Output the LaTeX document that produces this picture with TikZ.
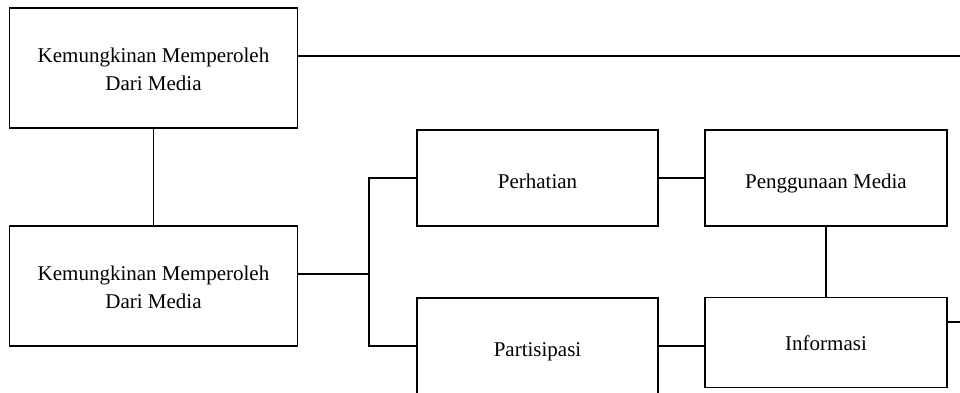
\documentclass[tikz,border=0pt]{standalone}
\usepackage{fontspec}
\setmainfont{Liberation Serif}
\begin{document}
\begin{tikzpicture}[x=1pt,y=-1pt,
  boxnode/.style={draw, line width=1.8pt, inner sep=0pt, align=center, font=\fontsize{21}{28.4}\selectfont},
  oneline/.style={boxnode, text height=20pt, text depth=0pt},
  twoline/.style={boxnode, text height=45.4pt, text depth=0pt},
  conn/.style={line width=1.8pt}]
\useasboundingbox (0,0) rectangle (960,392);
\node[twoline, minimum width=288pt, minimum height=120pt] (A) at (153.5,68) {Kemungkinan Memperoleh\\Dari Media};
\node[twoline, minimum width=288pt, minimum height=120pt] (B) at (153.5,286) {Kemungkinan Memperoleh\\Dari Media};
\node[oneline, minimum width=241pt, minimum height=96pt] (P) at (537.5,178) {Perhatian};
\node[oneline, minimum width=242pt, minimum height=96pt] (G) at (826,178) {Penggunaan Media};
\node[oneline, minimum width=241pt, minimum height=96pt] (S) at (537.5,346) {Partisipasi};
\node[oneline, text height=15pt, minimum width=242pt, minimum height=90pt] (I) at (826,342.5) {Informasi};
\coordinate (e1) at (960,56);
\coordinate (e2) at (960,322);
\coordinate (j) at (369,274);
\draw[conn] (e1 -| A.east) -- (e1);
\draw[conn] (A.south) -- (B.north);
\draw[conn] (j -| B.east) -- (j);
\draw[conn] (P.west) -| (j) |- (S.west);
\draw[conn] (P.east) -- (G.west);
\draw[conn] (G.south) -- (I.north);
\draw[conn] (S.east) -- (S.east -| I.west);
\draw[conn] (e2 -| I.east) -- (e2);
\end{tikzpicture}
\end{document}
